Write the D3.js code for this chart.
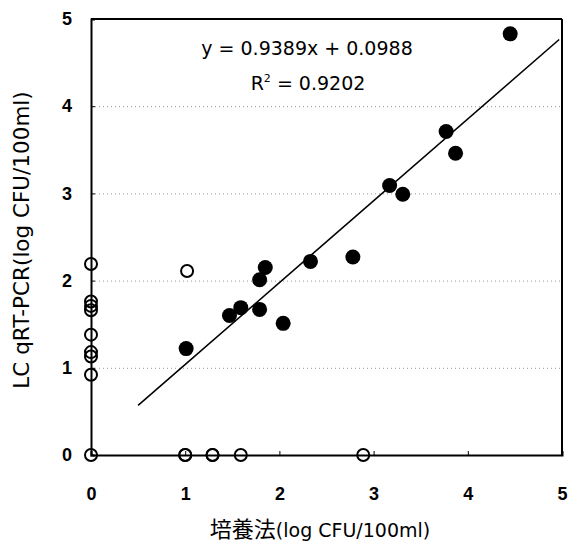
<!DOCTYPE html>
<html>
<head>
<meta charset="utf-8">
<script src="https://cdn.jsdelivr.net/npm/d3@7"></script>
<style>
  body { margin: 0; background: #fff; }
  svg { font-family: "DejaVu Sans", "Noto Sans CJK JP", sans-serif; }
  .grid line { stroke: #999; stroke-dasharray: 1,3; }
  .grid .domain { display: none; }
</style>
</head>
<body>
<div id="chart"></div>
<script>
var margin = { top: 19, right: 9, bottom: 90, left: 91 };
var width = 571, height = 545;
var plotW = width - margin.left - margin.right;
var plotH = height - margin.top - margin.bottom;

var xTicks = [0, 1, 2, 3, 4, 5];
var yTicks = [0, 1, 2, 3, 4, 5];

// filled = detected by both methods
var filledX = [1.01, 1.47, 1.59, 1.79, 1.79, 1.85, 2.04, 2.33, 2.78, 3.17, 3.31, 3.77, 3.87, 4.45];
var filledY = [1.22, 1.60, 1.69, 1.67, 2.01, 2.15, 1.51, 2.22, 2.27, 3.09, 2.99, 3.71, 3.46, 4.83];

// open = not detected by one of the methods
var openX = [0, 0, 0, 0, 0, 0, 0, 0, 0, 1.02, 1.0, 1.0, 1.29, 1.29, 1.59, 2.89];
var openY = [2.19, 1.76, 1.71, 1.66, 1.38, 1.18, 1.13, 0.92, 0, 2.11, 0, 0, 0, 0, 0, 0];

var slope = 0.9389, intercept = 0.0988, r2 = 0.9202;
var fitRange = [0.5, 4.97];

var svg = d3.select("#chart").append("svg")
    .attr("width", width)
    .attr("height", height);

var g = svg.append("g")
    .attr("transform", "translate(" + margin.left + "," + margin.top + ")");

var x = d3.scaleLinear().domain([0, 5]).range([0, plotW]);
var y = d3.scaleLinear().domain([0, 5]).range([plotH, 0]);

// dotted gridlines
g.append("g")
  .attr("class", "grid")
  .call(d3.axisLeft(y).tickValues([1, 2, 3, 4]).tickFormat("").tickSize(-plotW));

// frame
g.append("line").attr("x1", 0).attr("x2", plotW).attr("y1", 0).attr("y2", 0)
  .attr("stroke", "#000").attr("stroke-width", 2);
g.append("line").attr("x1", plotW).attr("x2", plotW).attr("y1", 0).attr("y2", plotH)
  .attr("stroke", "#000").attr("stroke-width", 2);

// axes
var xAxis = g.append("g")
  .attr("transform", "translate(0," + plotH + ")")
  .call(d3.axisBottom(x).tickValues(xTicks).tickSize(-4).tickPadding(32).tickFormat(d3.format("d")));
var yAxis = g.append("g")
  .call(d3.axisLeft(y).tickValues(yTicks).tickSize(-4).tickPadding(19).tickFormat(d3.format("d")));

[xAxis, yAxis].forEach(function(a) {
  a.select(".domain").attr("stroke-width", 2);
  a.selectAll(".tick line").attr("stroke", "#000");
  a.selectAll(".tick text")
    .style("font-size", "18px")
    .style("font-weight", "bold")
    .style("fill", "#000")
    .style("font-family", "'Liberation Sans', Arial, sans-serif");
});

// regression line
g.append("line")
  .attr("x1", x(fitRange[0])).attr("y1", y(slope * fitRange[0] + intercept))
  .attr("x2", x(fitRange[1])).attr("y2", y(slope * fitRange[1] + intercept))
  .attr("stroke", "#000").attr("stroke-width", 1.6);

// open circles
g.selectAll(".open")
  .data(openX.map(function(d, i) { return [d, openY[i]]; }))
  .enter().append("circle")
  .attr("class", "open")
  .attr("cx", function(d) { return x(d[0]); })
  .attr("cy", function(d) { return y(d[1]); })
  .attr("r", 6)
  .attr("fill", "none")
  .attr("stroke", "#000")
  .attr("stroke-width", 2);

// filled circles
g.selectAll(".filled")
  .data(filledX.map(function(d, i) { return [d, filledY[i]]; }))
  .enter().append("circle")
  .attr("class", "filled")
  .attr("cx", function(d) { return x(d[0]); })
  .attr("cy", function(d) { return y(d[1]); })
  .attr("r", 7.5)
  .attr("fill", "#000");

// equation
svg.append("text")
  .attr("x", 307).attr("y", 55)
  .attr("text-anchor", "middle")
  .style("font-size", "19px")
  .text("y = " + slope + "x + " + intercept);

var r2Text = svg.append("text")
  .attr("x", 308).attr("y", 90)
  .attr("text-anchor", "middle")
  .style("font-size", "19px");
r2Text.append("tspan").text("R");
r2Text.append("tspan").attr("dy", -8).style("font-size", "11px").text("2");
r2Text.append("tspan").attr("dy", 8).text(" = " + r2);

// axis titles
var xTitle = svg.append("text")
  .attr("x", 320).attr("y", 537)
  .attr("text-anchor", "middle")
  .style("font-size", "19px");
xTitle.append("tspan").style("font-family", "'Noto Sans CJK JP', sans-serif").style("font-size", "22px").text("培養法");
xTitle.append("tspan").text("(log CFU/100ml)");

svg.append("text")
  .attr("transform", "translate(29,240) rotate(-90)")
  .attr("text-anchor", "middle")
  .style("font-size", "21.5px")
  .text("LC qRT-PCR(log CFU/100ml)");
</script>
</body>
</html>
